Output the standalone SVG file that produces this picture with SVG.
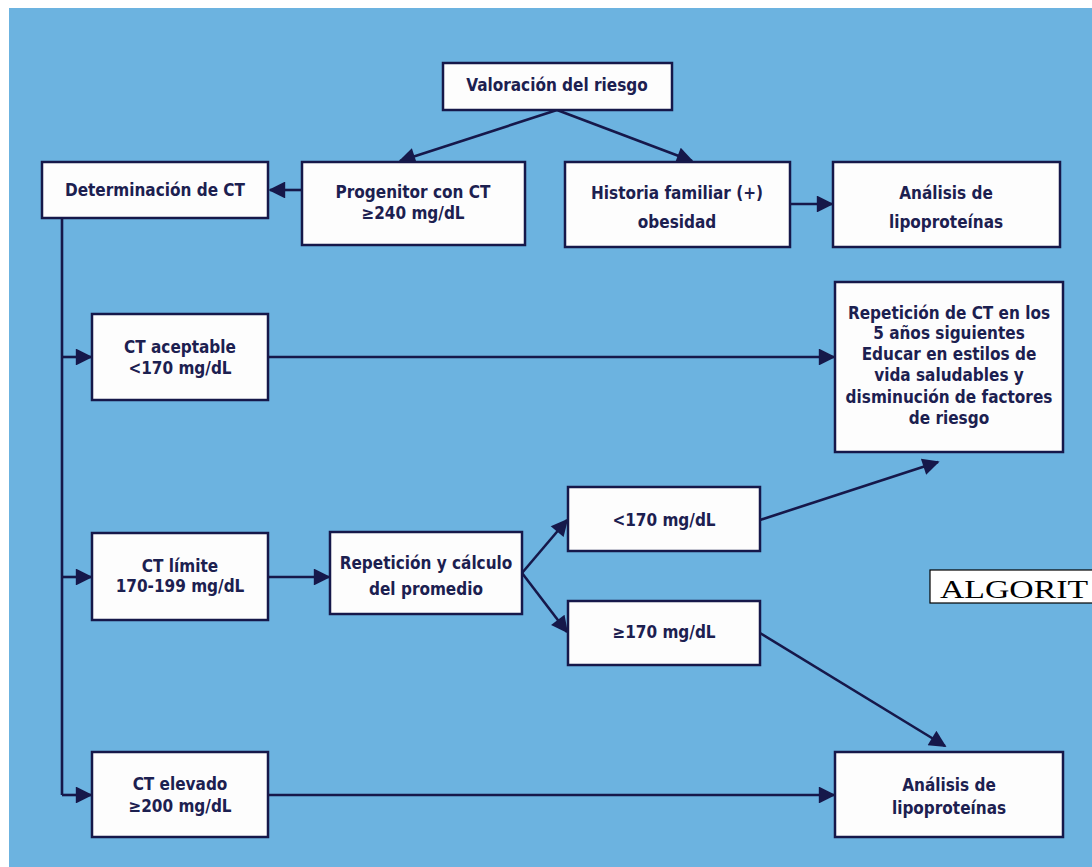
<svg xmlns="http://www.w3.org/2000/svg" width="1092" height="867" viewBox="0 0 1092 867">
<defs>
<style>
.box{fill:#fdfdfd;stroke:#16184a;stroke-width:2.5}
.t{font-family:"DejaVu Sans Condensed","Liberation Sans",sans-serif;font-size:17px;fill:#1c2050;text-anchor:middle;font-weight:600}
.c{stroke:#16184a;stroke-width:2.6;fill:none}
</style>
<marker id="ah" viewBox="0 0 10 10" refX="9" refY="5" markerWidth="7.5" markerHeight="6.5" markerUnits="strokeWidth" orient="auto">
<path d="M0,0 L10,5 L0,10 z" fill="#16184a"/>
</marker>
</defs>
<rect x="0" y="0" width="1092" height="867" fill="#ffffff"/>
<rect x="9" y="8" width="1083" height="859" fill="#6cb3e0"/>
<g id="connectors">
<path class="c" d="M557,110 L400,161" marker-end="url(#ah)"/>
<path class="c" d="M557,110 L692,161" marker-end="url(#ah)"/>
<path class="c" d="M302,190 L270,190" marker-end="url(#ah)"/>
<path class="c" d="M790,204 L832,204" marker-end="url(#ah)"/>
<path class="c" d="M62,218 L62,795"/>
<path class="c" d="M62,357 L91,357" marker-end="url(#ah)"/>
<path class="c" d="M62,577 L91,577" marker-end="url(#ah)"/>
<path class="c" d="M62,795 L91,795" marker-end="url(#ah)"/>
<path class="c" d="M268,357 L834,357" marker-end="url(#ah)"/>
<path class="c" d="M268,577 L329,577" marker-end="url(#ah)"/>
<path class="c" d="M522,573 L567,520" marker-end="url(#ah)"/>
<path class="c" d="M522,573 L567,632" marker-end="url(#ah)"/>
<path class="c" d="M760,520 L938,462" marker-end="url(#ah)"/>
<path class="c" d="M760,633 L945,746" marker-end="url(#ah)"/>
<path class="c" d="M268,795 L834,795" marker-end="url(#ah)"/>
</g>
<g id="n-valoracion"><rect class="box" x="443" y="63" width="229" height="47"/><text class="t" x="557" y="91">Valoración del riesgo</text></g>
<g id="n-determinacion"><rect class="box" x="42" y="162" width="226" height="56"/><text class="t" x="155" y="196">Determinación de CT</text></g>
<g id="n-progenitor"><rect class="box" x="302" y="162" width="223" height="83"/><text class="t" x="413" y="198">Progenitor con CT</text><text class="t" x="413" y="219">≥240 mg/dL</text></g>
<g id="n-historia"><rect class="box" x="565" y="162" width="225" height="85"/><text class="t" x="677" y="199">Historia familiar (+)</text><text class="t" x="677" y="228">obesidad</text></g>
<g id="n-analisis1"><rect class="box" x="833" y="162" width="227" height="85"/><text class="t" x="946" y="199">Análisis de</text><text class="t" x="946" y="228">lipoproteínas</text></g>
<g id="n-repeticionCT"><rect class="box" x="835" y="282" width="228" height="170"/>
<text class="t" x="949" y="319">Repetición de CT en los</text>
<text class="t" x="949" y="339">5 años siguientes</text>
<text class="t" x="949" y="360">Educar en estilos de</text>
<text class="t" x="949" y="381">vida saludables y</text>
<text class="t" x="949" y="403">disminución de factores</text>
<text class="t" x="949" y="424">de riesgo</text></g>
<g id="n-aceptable"><rect class="box" x="92" y="314" width="176" height="86"/><text class="t" x="180" y="353">CT aceptable</text><text class="t" x="180" y="374">&lt;170 mg/dL</text></g>
<g id="n-menor170"><rect class="box" x="568" y="487" width="192" height="64"/><text class="t" x="664" y="526">&lt;170 mg/dL</text></g>
<g id="n-limite"><rect class="box" x="92" y="533" width="176" height="87"/><text class="t" x="180" y="572">CT límite</text><text class="t" x="180" y="592">170-199 mg/dL</text></g>
<g id="n-repeticion"><rect class="box" x="330" y="532" width="192" height="82"/><text class="t" x="426" y="569">Repetición y cálculo</text><text class="t" x="426" y="595">del promedio</text></g>
<g id="n-mayor170"><rect class="box" x="568" y="601" width="192" height="64"/><text class="t" x="664" y="638">≥170 mg/dL</text></g>
<g id="n-elevado"><rect class="box" x="92" y="752" width="176" height="85"/><text class="t" x="180" y="790">CT elevado</text><text class="t" x="180" y="812">≥200 mg/dL</text></g>
<g id="n-analisis2"><rect class="box" x="835" y="752" width="228" height="85"/><text class="t" x="949" y="791">Análisis de</text><text class="t" x="949" y="814">lipoproteínas</text></g>
<g id="label-algorit"><rect x="930" y="570" width="170" height="33" fill="#ffffff" stroke="#000000" stroke-width="1.2"/><text transform="translate(940,598) scale(1.35,1)" x="0" y="0" font-family="Liberation Serif, serif" font-size="25" fill="#000000">ALGORIT</text></g>
</svg>
